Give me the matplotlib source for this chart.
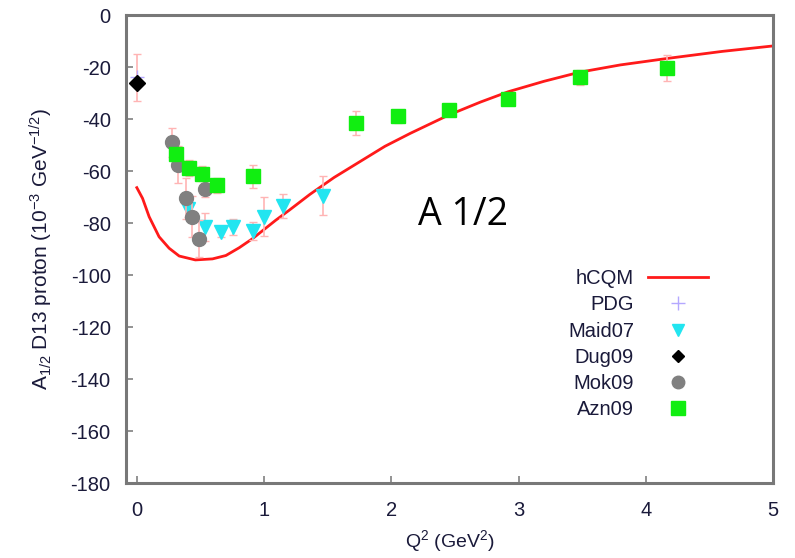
import matplotlib
matplotlib.use('Agg')
import matplotlib.pyplot as plt
from matplotlib.lines import Line2D

plt.rcParams['font.family'] = ['Liberation Sans', 'DejaVu Sans']
plt.rcParams['mathtext.default'] = 'regular'
plt.rcParams['axes.unicode_minus'] = False

# hCQM curve
hcqm_q2 = [0.0, 0.045, 0.097, 0.175, 0.254, 0.333, 0.46, 0.595, 0.70, 0.805, 0.91,
           1.0, 1.09, 1.2, 1.36, 1.55, 1.75, 1.95, 2.15, 2.45, 2.7, 2.92, 3.2,
           3.48, 3.8, 4.17, 4.6, 5.0]
hcqm_a = [-66.4, -70.5, -77.6, -85.3, -89.7, -92.7, -94.2, -93.8, -92.5, -89.5, -86,
          -82.5, -79, -75, -69, -62.5, -56.5, -50.5, -45.5, -38.5, -33.5, -29.5, -25.5,
          -22, -19.2, -16.7, -14, -11.9]

pdg_q2 = [0.0]
pdg_a = [-24]
pdg_err = [9]

maid_q2 = [0.40, 0.535, 0.66, 0.755, 0.91, 1.0, 1.15, 1.46]
maid_a = [-74.5, -81.5, -83.5, -81.5, -83, -77.5, -73.5, -69.5]
maid_err = [3, 5.5, 2, 3, 3.5, 7.5, 4.5, 7.5]

dug_q2 = [0.0]
dug_a = [-26.3]

mok_q2 = [0.275, 0.32, 0.39, 0.43, 0.49, 0.535]
mok_a = [-49, -57.5, -70.5, -77.5, -86, -67]
mok_err = [5.5, 7, 8, 8, 7, 3]

azn_q2 = [0.31, 0.41, 0.51, 0.63, 0.91, 1.72, 2.05, 2.45, 2.92, 3.48, 4.17]
azn_a = [-53.5, -58.8, -61, -65.5, -62, -41.5, -39, -36.5, -32.3, -24, -20.5]
azn_err = [3, 3, 3, 3, 4.5, 4.5, 2.5, 2, 2, 3, 5]

ecol = '#ffb4b4'
tcol = '#1a1a3a'
red = '#ff1a1a'
cyan = '#22e5f0'
grey = '#808080'
green = '#11ee11'
lilac = '#b4a8ff'

fig = plt.figure(figsize=(7.95, 5.58), dpi=100)
ax = fig.add_axes([0.1585, 0.1344, 0.8138, 0.8387])

ax.plot(hcqm_q2, hcqm_a, color=red, linewidth=2, zorder=2)

ax.errorbar(pdg_q2, pdg_a, yerr=pdg_err, fmt='+', color=lilac, ecolor=ecol,
            markersize=10, capsize=3, elinewidth=1.2, zorder=3)
ax.errorbar(maid_q2, maid_a, yerr=maid_err, fmt='v', color=cyan, ecolor=ecol,
            markersize=10, capsize=3, elinewidth=1.2, zorder=3)
ax.plot(dug_q2, dug_a, 'D', color='black', markersize=8, zorder=5)
ax.errorbar(mok_q2, mok_a, yerr=mok_err, fmt='o', color=grey, ecolor=ecol,
            markersize=10, capsize=3, elinewidth=1.2, zorder=4)
ax.errorbar(azn_q2, azn_a, yerr=azn_err, fmt='s', color=green, ecolor=ecol,
            markersize=10.5, capsize=3, elinewidth=1.2, zorder=4)

ax.set_xlim(-0.085, 5)
ax.set_ylim(-180, 0)
ax.set_xticks(range(0, 6))
ax.set_yticks(range(-180, 1, 20))

for s in ax.spines.values():
    s.set_color('#787878')
    s.set_linewidth(2.2)
ax.tick_params(direction='in', length=5, width=1.2, color=grey,
               labelsize=14.5, labelcolor=tcol)
ax.tick_params(axis='y', pad=11)
ax.tick_params(axis='x', pad=13)

ax.set_xlabel('Q$^2$ (GeV$^2$)', fontsize=14, color=tcol, labelpad=6)
ax.set_ylabel('A$_{1/2}$ D13 proton (10$^{-3}$ GeV$^{-1/2}$)', fontsize=15,
              color=tcol, labelpad=11)

# legend in gnuplot style: label first, sample after it
handles = [
    Line2D([], [], color=red, linewidth=2),
    Line2D([], [], marker='+', linestyle='none', color=lilac, markersize=10),
    Line2D([], [], marker='v', linestyle='none', color=cyan, markersize=8),
    Line2D([], [], marker='D', linestyle='none', color='black', markersize=6),
    Line2D([], [], marker='o', linestyle='none', color=grey, markersize=9),
    Line2D([], [], marker='s', linestyle='none', color=green, markersize=10),
]
labels = ['hCQM', 'PDG', 'Maid07', 'Dug09', 'Mok09', 'Azn09']
leg = ax.legend(handles, labels, loc='upper left', bbox_to_anchor=(0.683, 0.457),
                frameon=False, markerfirst=False, fontsize=14.5, labelspacing=0.36,
                handlelength=3.0, handletextpad=0.7, borderpad=0, borderaxespad=0)
for t in leg.get_texts():
    t.set_color(tcol)
    t.set_ha('right')

fig.text(0.526, 0.597, 'A 1/2', fontsize=27, family='Open Sans', color='black',
         ha='left', va='baseline')

fig.savefig('out.png', dpi=100)
